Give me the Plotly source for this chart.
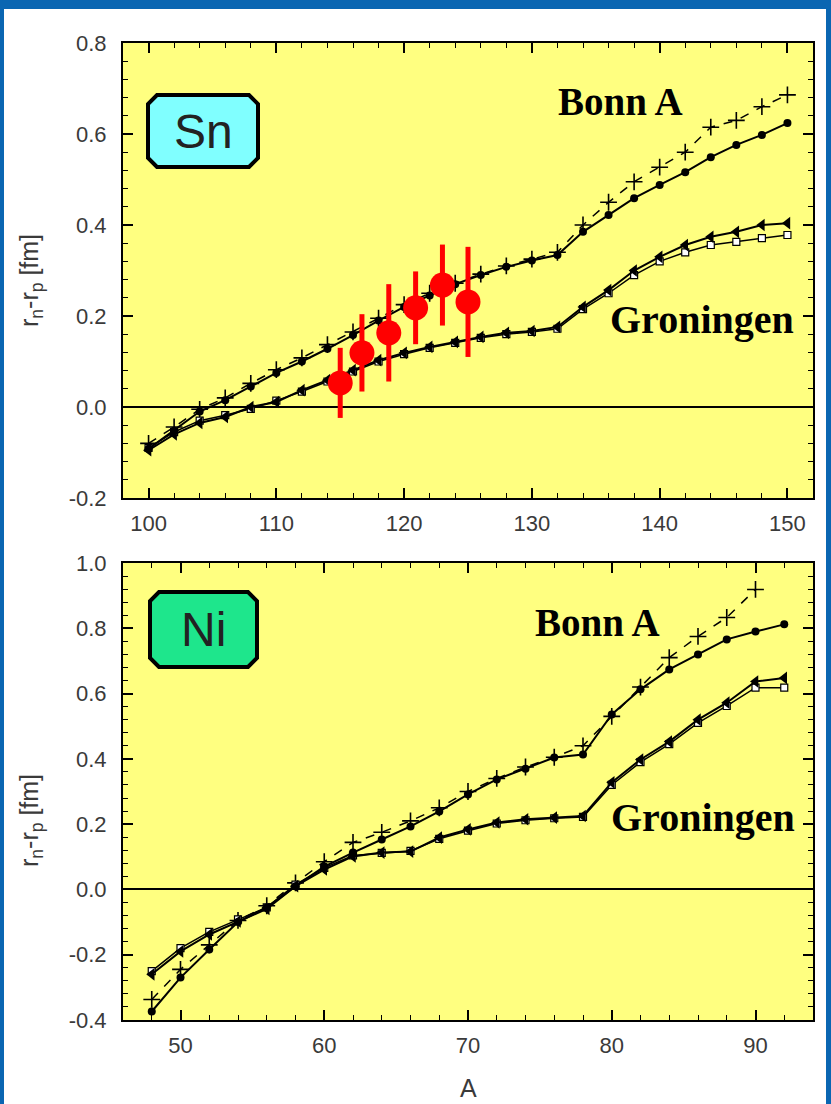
import plotly.graph_objects as go

W, H = 831, 1104

# ---------------- Sn data ----------------
sn_A = [100, 102, 104, 106, 108, 110, 112, 114, 116, 118, 120, 122, 124,
        126, 128, 130, 132, 134, 136, 138, 140, 142, 144, 146, 148, 150]
sn_bonn_rel = [-0.080, -0.044, -0.005, 0.020, 0.052, 0.082, 0.108, 0.137, 0.165, 0.195,
               0.225, 0.250, 0.272, 0.292, 0.310, 0.325, 0.340, 0.400, 0.450, 0.495,
               0.527, 0.560, 0.615, 0.630, 0.660, 0.686]
sn_bonn = [-0.092, -0.052, -0.010, 0.015, 0.045, 0.075, 0.100, 0.128, 0.158, 0.190,
           0.220, 0.245, 0.270, 0.290, 0.308, 0.322, 0.334, 0.385, 0.422, 0.459,
           0.488, 0.516, 0.549, 0.576, 0.598, 0.624]
sn_gron = [-0.095, -0.060, -0.035, -0.022, 0.000, 0.011, 0.037, 0.059, 0.081, 0.103,
           0.119, 0.132, 0.143, 0.154, 0.163, 0.167, 0.176, 0.220, 0.257, 0.300,
           0.330, 0.356, 0.374, 0.385, 0.400, 0.404]
sn_gron2 = [-0.090, -0.055, -0.030, -0.018, -0.004, 0.014, 0.034, 0.056, 0.078, 0.100,
            0.116, 0.130, 0.141, 0.152, 0.160, 0.165, 0.172, 0.215, 0.250, 0.290,
            0.320, 0.340, 0.356, 0.363, 0.371, 0.378]

sn_exp_A = [115.0, 116.7, 118.8, 120.9, 123.0, 125.0]
sn_exp_val = [0.053, 0.119, 0.163, 0.218, 0.268, 0.231]
sn_exp_err = [0.077, 0.085, 0.107, 0.080, 0.089, 0.121]

# ---------------- Ni data ----------------
ni_A = [48, 50, 52, 54, 56, 58, 60, 62, 64, 66, 68, 70, 72, 74, 76, 78, 80, 82, 84, 86, 88, 90, 92]
ni_bonn = [-0.374, -0.270, -0.184, -0.100, -0.055, 0.010, 0.070, 0.113, 0.153, 0.193, 0.239,
           0.291, 0.337, 0.370, 0.404, 0.413, 0.536, 0.613, 0.674, 0.720, 0.766, 0.790, 0.812]
ni_A_rel = [48, 50, 52, 54, 56, 58, 60, 62, 64, 66, 68, 70, 72, 74, 76, 78, 80, 82, 84, 86, 88, 90]
ni_bonn_rel = [-0.337, -0.245, -0.170, -0.095, -0.050, 0.020, 0.085, 0.144, 0.175, 0.210,
               0.250, 0.300, 0.340, 0.375, 0.405, 0.440, 0.530, 0.620, 0.710, 0.775, 0.833, 0.919]
ni_gron = [-0.260, -0.190, -0.138, -0.098, -0.060, 0.010, 0.061, 0.101, 0.113, 0.116, 0.159,
           0.184, 0.205, 0.215, 0.220, 0.225, 0.328, 0.398, 0.453, 0.520, 0.572, 0.637, 0.648]
ni_gron2 = [-0.250, -0.180, -0.130, -0.092, -0.055, 0.015, 0.066, 0.104, 0.112, 0.118, 0.155,
            0.180, 0.202, 0.212, 0.218, 0.222, 0.320, 0.390, 0.445, 0.510, 0.562, 0.618, 0.618]

# ---------------- tick labels ----------------
sn_xticks = [100, 110, 120, 130, 140, 150]
sn_yticks = [-0.2, 0.0, 0.2, 0.4, 0.6, 0.8]
sn_ytext = ["-0.2", "0.0", "0.2", "0.4", "0.6", "0.8"]
ni_xticks = [50, 60, 70, 80, 90]
ni_yticks = [-0.4, -0.2, 0.0, 0.2, 0.4, 0.6, 0.8, 1.0]
ni_ytext = ["-0.4", "-0.2", "0.0", "0.2", "0.4", "0.6", "0.8", "1.0"]

YELLOW = "#ffff80"
BLUE = "#0a66b2"
TXT = "#3a3a3a"
SANS = "Liberation Sans, Arial, sans-serif"
SERIF = "Liberation Serif, Times New Roman, serif"


def px(x):
    return x / W


def py(y):
    return 1 - y / H


fig = go.Figure()


def add_curves(xa, ya, A, rel_A, rel, bonn, gron, gron2):
    fig.add_trace(go.Scatter(x=rel_A, y=rel, xaxis=xa, yaxis=ya, mode="lines+markers",
                             line=dict(color="black", width=1.5, dash="dash"),
                             marker=dict(symbol="cross-thin-open", size=12,
                                         line=dict(color="black", width=1.6)),
                             showlegend=False))
    fig.add_trace(go.Scatter(x=A, y=gron2, xaxis=xa, yaxis=ya, mode="lines+markers",
                             line=dict(color="black", width=1.5),
                             marker=dict(symbol="square", size=7, color="white",
                                         line=dict(color="black", width=1.2)),
                             showlegend=False))
    fig.add_trace(go.Scatter(x=A, y=gron, xaxis=xa, yaxis=ya, mode="lines+markers",
                             line=dict(color="black", width=2),
                             marker=dict(symbol="triangle-left", size=11, color="black"),
                             showlegend=False))
    fig.add_trace(go.Scatter(x=A, y=bonn, xaxis=xa, yaxis=ya, mode="lines+markers",
                             line=dict(color="black", width=2),
                             marker=dict(symbol="circle", size=8, color="black"),
                             showlegend=False))


add_curves("x", "y", sn_A, sn_A, sn_bonn_rel, sn_bonn, sn_gron, sn_gron2)
add_curves("x2", "y2", ni_A, ni_A_rel, ni_bonn_rel, ni_bonn, ni_gron, ni_gron2)

fig.add_trace(go.Scatter(x=sn_exp_A, y=sn_exp_val, xaxis="x", yaxis="y", mode="markers",
                         marker=dict(symbol="circle", size=25, color="red"),
                         error_y=dict(type="data", array=sn_exp_err, color="red",
                                      thickness=5, width=0),
                         showlegend=False))

axis_common = dict(showline=True, linecolor="black", linewidth=2, mirror="allticks",
                   ticks="inside", ticklen=10, tickwidth=1.5, tickcolor="black",
                   showgrid=False, automargin=False,
                   tickfont=dict(family=SANS, size=22, color=TXT))
minor_x = dict(dtick=2, ticks="inside", ticklen=5, tickcolor="black", tickwidth=1.2)
minor_y = dict(dtick=0.04, ticks="inside", ticklen=5, tickcolor="black", tickwidth=1.2)

fig.update_layout(
    width=W, height=H,
    margin=dict(l=0, r=0, t=0, b=0, pad=0),
    paper_bgcolor="white",
    plot_bgcolor=YELLOW,
    xaxis=dict(domain=[px(123), px(813)], anchor="y", range=[98, 152],
               tickmode="array", tickvals=sn_xticks, ticktext=[str(v) for v in sn_xticks],
               zeroline=False, ticklabelstandoff=5, minor=minor_x, **axis_common),
    yaxis=dict(domain=[py(498), py(43)], anchor="x", range=[-0.2, 0.8],
               tickmode="array", tickvals=sn_yticks, ticktext=sn_ytext,
               zeroline=True, zerolinecolor="black", zerolinewidth=1.5,
               ticklabelstandoff=10, minor=minor_y, **axis_common),
    xaxis2=dict(domain=[px(123), px(813)], anchor="y2", range=[46, 94],
                tickmode="array", tickvals=ni_xticks, ticktext=[str(v) for v in ni_xticks],
                zeroline=False, ticklabelstandoff=5, minor=minor_x, **axis_common),
    yaxis2=dict(domain=[py(1020), py(563)], anchor="x2", range=[-0.4, 1.0],
                tickmode="array", tickvals=ni_yticks, ticktext=ni_ytext,
                zeroline=True, zerolinecolor="black", zerolinewidth=1.5,
                ticklabelstandoff=10, minor=minor_y, **axis_common),
)


def chamfer_box(x0, y0, x1, y1, c=9):
    pts = [(x0 + c, y0), (x1 - c, y0), (x1, y0 + c), (x1, y1 - c), (x1 - c, y1),
           (x0 + c, y1), (x0, y1 - c), (x0, y0 + c)]
    return "M " + " L ".join(f"{px(a):.5f},{py(b):.5f}" for a, b in pts) + " Z"


shapes = [
    dict(type="rect", xref="paper", yref="paper", x0=0, x1=1, y0=py(9), y1=1,
         fillcolor=BLUE, line=dict(width=0), layer="above"),
    dict(type="rect", xref="paper", yref="paper", x0=0, x1=px(4), y0=0, y1=1,
         fillcolor=BLUE, line=dict(width=0), layer="above"),
    dict(type="rect", xref="paper", yref="paper", x0=px(826), x1=1, y0=0, y1=1,
         fillcolor=BLUE, line=dict(width=0), layer="above"),
    dict(type="path", xref="paper", yref="paper", path=chamfer_box(148, 95, 258, 167),
         fillcolor="#80ffff", line=dict(color="black", width=4), layer="above"),
    dict(type="path", xref="paper", yref="paper", path=chamfer_box(150, 592, 257, 667),
         fillcolor="#1ee68c", line=dict(color="black", width=4), layer="above"),
]


def ann(text, x, y, size, family=SANS, color=TXT, angle=0):
    return dict(text=text, x=px(x), y=py(y), xref="paper", yref="paper", showarrow=False,
                xanchor="center", yanchor="middle", textangle=angle,
                font=dict(family=family, size=size, color=color))


annotations = [
    ann("Sn", 203, 131, 48, color="#222"),
    ann("Ni", 203, 629, 48, color="#222"),
    ann("<b>Bonn A</b>", 620, 101, 39, family=SERIF, color="black"),
    ann("<b>Groningen</b>", 702, 320, 40, family=SERIF, color="black"),
    ann("<b>Bonn A</b>", 597, 622, 39, family=SERIF, color="black"),
    ann("<b>Groningen</b>", 703, 817, 40, family=SERIF, color="black"),
    ann("r<sub>n</sub>-r<sub>p</sub> [fm]", 31, 281, 25, angle=-90),
    ann("r<sub>n</sub>-r<sub>p</sub> [fm]", 31, 821, 25, angle=-90),
    ann("A", 468, 1088, 25),
]

fig.update_layout(shapes=shapes, annotations=annotations)
fig.write_html("out.html")
